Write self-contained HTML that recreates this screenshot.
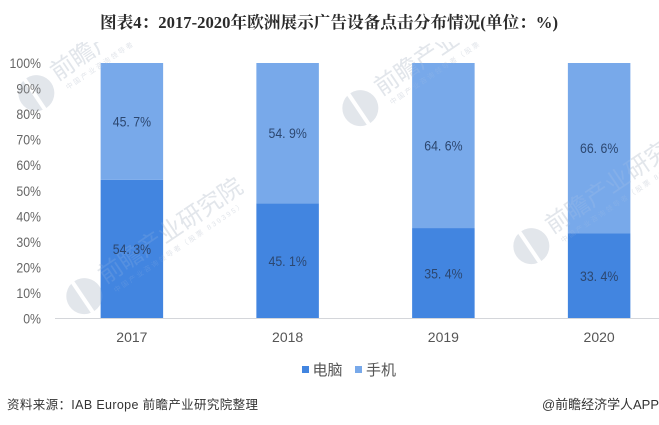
<!DOCTYPE html>
<html lang="zh">
<head>
<meta charset="utf-8">
<style>
html,body{margin:0;padding:0;background:#fff;}
#chart{display:block;width:659px;height:425px;}
text{font-family:"Liberation Sans","Noto Sans CJK SC",sans-serif;}
</style>
</head>
<body>
<svg id="chart" xmlns="http://www.w3.org/2000/svg" width="659" height="425" viewBox="0 0 659 425">
  <defs>
    <clipPath id="markclip"><rect x="0" y="42" width="659" height="278"/></clipPath>
  </defs>
  <rect x="0" y="0" width="659" height="425" fill="#ffffff"/>
  <text x="100" y="28" font-size="16.5" font-weight="700" fill="#2b2b2b" textLength="458" lengthAdjust="spacingAndGlyphs" style='font-family:"Liberation Serif","Noto Serif CJK SC",serif'>图表4：2017-2020年欧洲展示广告设备点击分布情况(单位：%)</text>
  <g id="marklayer" clip-path="url(#markclip)" opacity="0.62"></g>
  <g id="gridlayer"></g>
  <g id="barlayer"></g>
  <g id="overlaylayer" clip-path="url(#markclip)" opacity="0.14"></g>
  <line x1="55" x2="659" y1="318.5" y2="318.5" stroke="#d4d6da" stroke-width="1"/>
  <g id="xlayer"></g>
  <g id="labellayer"></g>
  <g>
    <rect x="302" y="366" width="7" height="7" fill="#4285e0"/>
    <text x="312.5" y="375" font-size="15" fill="#555">电脑</text>
    <rect x="355" y="366" width="7" height="7" fill="#78a9ea"/>
    <text x="366" y="375" font-size="15" fill="#555">手机</text>
  </g>
  <text x="7" y="409" font-size="12.5" fill="#333" textLength="251" lengthAdjust="spacing">资料来源：IAB Europe 前瞻产业研究院整理</text>
  <text x="542" y="409" font-size="13" fill="#333" textLength="117" lengthAdjust="spacingAndGlyphs">@前瞻经济学人APP</text>
</svg>
<script>
var categories = ['2017', '2018', '2019', '2020'];
var desktopValues = [54.3, 45.1, 35.4, 33.4];
var mobileValues = [45.7, 54.9, 64.6, 66.6];
var yTickValues = [0, 10, 20, 30, 40, 50, 60, 70, 80, 90, 100];

var SVGNS = 'http://www.w3.org/2000/svg';
var plotLeft = 54, plotRight = 677, plotTop = 63, plotBottom = 318.5, barWidth = 62.5;

function yScale(v) {
  return plotBottom - (v / 100) * (plotBottom - plotTop);
}
function xCenter(i) {
  return plotLeft + (plotRight - plotLeft) / categories.length * (i + 0.5);
}
function make(tag, attrs, parent, content) {
  var el = document.createElementNS(SVGNS, tag);
  for (var k in attrs) { el.setAttribute(k, attrs[k]); }
  if (content !== undefined) { el.textContent = content; }
  parent.appendChild(el);
  return el;
}
function narrow(x, y) {
  return 'translate(' + x + ' ' + y + ') scale(0.88 1)';
}

var gridLayer = document.getElementById('gridlayer');
var barLayer = document.getElementById('barlayer');
var xLayer = document.getElementById('xlayer');
var labelLayer = document.getElementById('labellayer');
var markLayer = document.getElementById('marklayer');
var overlayLayer = document.getElementById('overlaylayer');

yTickValues.forEach(function (t) {
  var el = make('text', {transform: narrow(41, yScale(t) + 5), 'text-anchor': 'end', 'font-size': 14, fill: '#666'}, gridLayer, t + '%');
  
  
});

categories.forEach(function (c, i) {
  var cx = xCenter(i);
  var desktopTop = yScale(desktopValues[i]);
  var stackTop = yScale(desktopValues[i] + mobileValues[i]);

  var b1 = make('rect', {x: cx - barWidth / 2, y: desktopTop, width: barWidth, height: plotBottom - desktopTop, fill: '#4285e0'}, barLayer);
  
  

  var b2 = make('rect', {x: cx - barWidth / 2, y: stackTop, width: barWidth, height: desktopTop - stackTop, fill: '#78a9ea'}, barLayer);
  
  

  var xt = make('text', {x: cx, y: 342, 'text-anchor': 'middle', 'font-size': 14, fill: '#555'}, xLayer, c);
  
  

  var l1 = make('text', {transform: narrow(cx, (desktopTop + plotBottom) / 2 + 5), 'text-anchor': 'middle', 'font-size': 14, fill: '#2c4770', 'xml:space': 'preserve'}, labelLayer, desktopValues[i].toFixed(1).replace('.', '. ') + '%');
  
  

  var l2 = make('text', {transform: narrow(cx, (stackTop + desktopTop) / 2 + 5), 'text-anchor': 'middle', 'font-size': 14, fill: '#2c4770', 'xml:space': 'preserve'}, labelLayer, mobileValues[i].toFixed(1).replace('.', '. ') + '%');
  
  
});

var watermarkAnchors = [[38, 92], [86, 295], [362, 107], [533, 245]];
function drawWatermark(p, layer) {
  var g = make('g', {transform: 'translate(' + p[0] + ' ' + p[1] + ') rotate(-34)'}, layer);
  
  
  make('circle', {cx: -2, cy: 0, r: 18, fill: '#d5dae2'}, g);
  make('rect', {x: -6, y: -19, width: 4, height: 38, fill: '#ffffff'}, g);
  make('text', {x: 22, y: 2, 'font-size': 24, fill: '#d5dae2'}, g, '前瞻产业研究院');
  make('text', {x: 26, y: 15, 'font-size': 7, fill: '#d5dae2', 'letter-spacing': 2}, g, '中国产业咨询领导者（股票 839395）');
}
watermarkAnchors.forEach(function (p) {
  drawWatermark(p, markLayer);
  drawWatermark(p, overlayLayer);
});
</script>
</body>
</html>
